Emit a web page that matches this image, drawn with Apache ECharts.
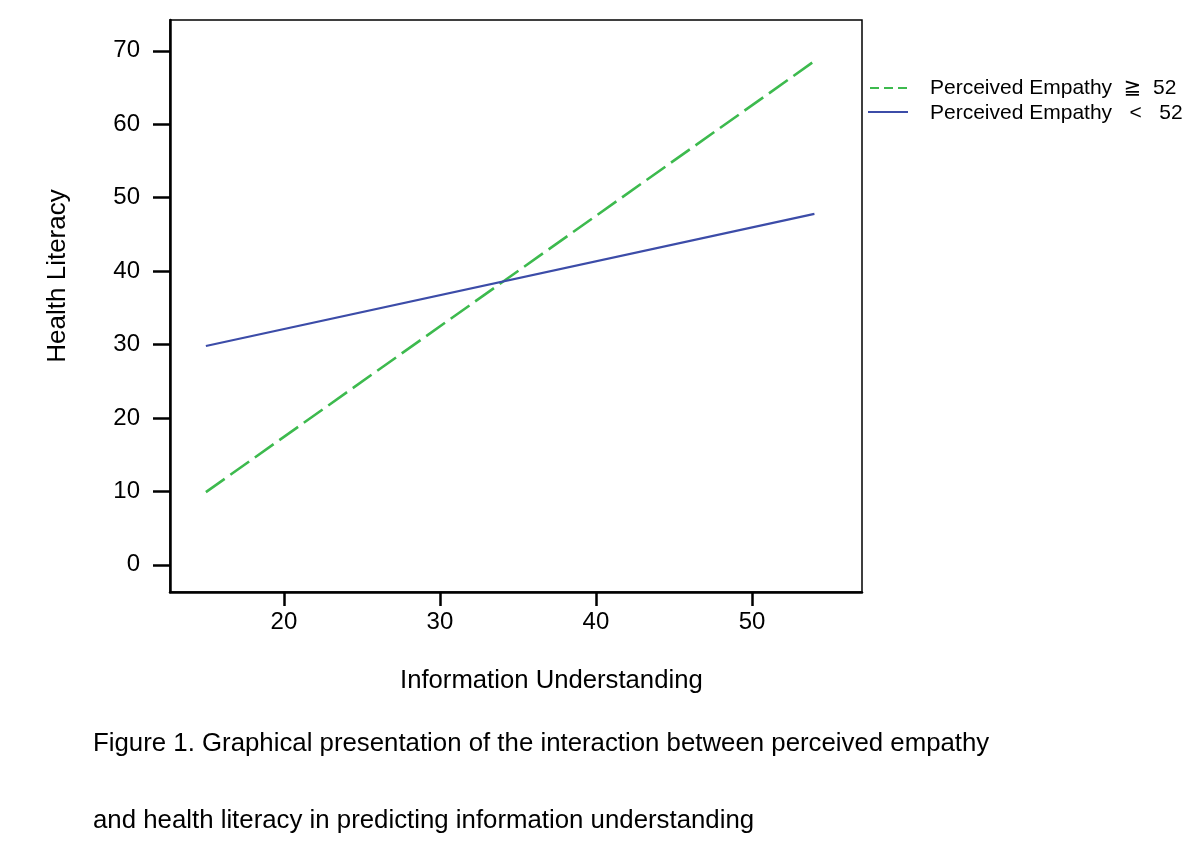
<!DOCTYPE html>
<html>
<head>
<meta charset="utf-8">
<script src="https://cdn.jsdelivr.net/npm/echarts@6/dist/echarts.min.js"></script>
<style>html,body{margin:0;padding:0;background:#fff;}#c{width:1200px;height:860px;}</style>
</head>
<body>
<div id="c"></div>
<script>
const xEnds = [15, 54];
const highEmpathy = [9.9, 68.6];
const lowEmpathy = [29.8, 47.8];
const xTicks = [20, 30, 40, 50];
const yTicks = [0, 10, 20, 30, 40, 50, 60, 70];
const seriesNames = ['Perceived Empathy  \u2267  52', 'Perceived Empathy   <   52'];
const xTitle = 'Information Understanding';
const yTitle = 'Health Literacy';
const caption1 = 'Figure 1. Graphical presentation of the interaction between perceived empathy';
const caption2 = 'and health literacy in predicting information understanding';

const FONT = '"Liberation Sans", Arial, "DejaVu Sans", sans-serif';
const GREEN = '#3dba4e';
const BLUE = '#3c4ca8';
const DASH = [23, 7];
const chart = echarts.init(document.getElementById('c'), null, {renderer: 'canvas'});
chart.setOption({
  backgroundColor: '#fff',
  animation: false,
  grid: {left: 170, top: 20, right: 338, bottom: 268, show: true, borderColor: '#000', borderWidth: 1.5, containLabel: false},
  xAxis: {
    type: 'value', min: 12.7, max: 57.05,
    axisLine: {show: true, onZero: false, lineStyle: {color: '#000', width: 2.5}},
    axisTick: {show: true, length: 14, customValues: xTicks, lineStyle: {color: '#000', width: 2.5}},
    axisLabel: {customValues: xTicks, fontFamily: FONT, fontSize: 24, color: '#000', margin: 18},
    splitLine: {show: false}
  },
  yAxis: {
    type: 'value', min: -3.7, max: 74.2,
    axisLine: {show: true, onZero: false, lineStyle: {color: '#000', width: 2.5}},
    axisTick: {show: true, length: 17, customValues: yTicks, lineStyle: {color: '#000', width: 2.5}},
    axisLabel: {customValues: yTicks, fontFamily: FONT, fontSize: 24, color: '#000', margin: 30, padding: [4, 0, 0, 0]},
    splitLine: {show: false}
  },
  graphic: [
    {type: 'line', shape: {x1: 870, y1: 88, x2: 910, y2: 88}, style: {stroke: GREEN, lineWidth: 2, lineDash: [9, 5]}},
    {type: 'text', left: 930, top: 78, style: {text: seriesNames[0], font: '21px ' + FONT, fill: '#000'}},
    {type: 'line', shape: {x1: 868, y1: 112, x2: 908, y2: 112}, style: {stroke: BLUE, lineWidth: 2}},
    {type: 'text', left: 930, top: 103, style: {text: seriesNames[1], font: '21px ' + FONT, fill: '#000'}},
    {type: 'text', left: 400, top: 668, style: {text: xTitle, font: '25.7px ' + FONT, fill: '#000'}},
    {type: 'text', x: 58, y: 276, rotation: Math.PI / 2, style: {text: yTitle, font: '26px ' + FONT, fill: '#000', align: 'center', verticalAlign: 'middle'}},
    {type: 'text', left: 93, top: 731, style: {text: caption1, font: '25.8px ' + FONT, fill: '#000'}},
    {type: 'text', left: 93, top: 808, style: {text: caption2, font: '25.8px ' + FONT, fill: '#000'}}
  ],
  series: [
    {name: seriesNames[0], type: 'line', symbol: 'none', data: xEnds.map((x, i) => [x, highEmpathy[i]]),
     lineStyle: {color: GREEN, width: 2.6, type: DASH}, itemStyle: {color: GREEN}},
    {name: seriesNames[1], type: 'line', symbol: 'none', data: xEnds.map((x, i) => [x, lowEmpathy[i]]),
     lineStyle: {color: BLUE, width: 2.2}, itemStyle: {color: BLUE}}
  ]
});
</script>
</body>
</html>
